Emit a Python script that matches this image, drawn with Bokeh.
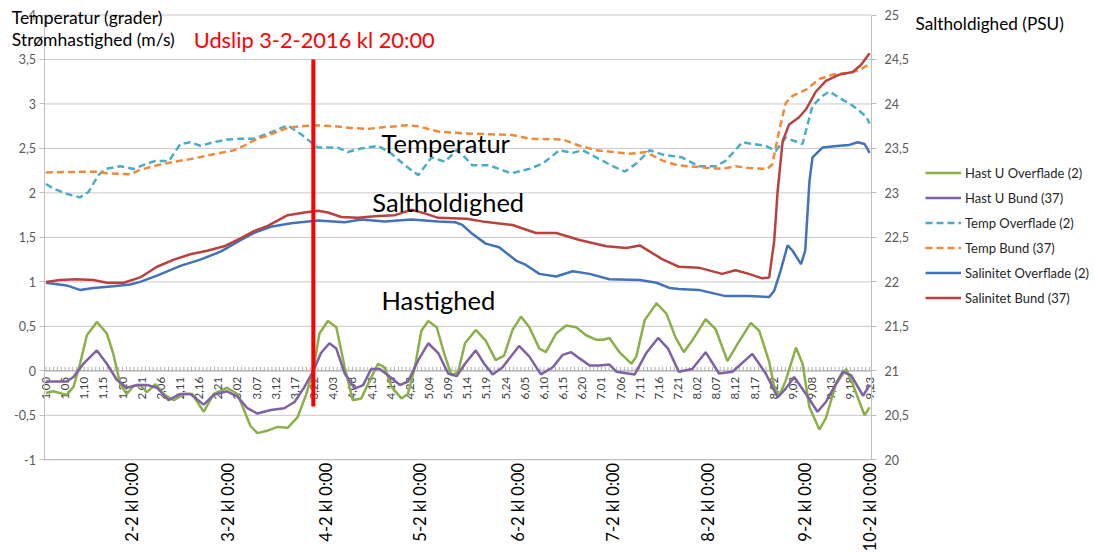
import math
from bokeh.plotting import figure
from bokeh.models import (Range1d, LinearAxis, FixedTicker, Label, Legend, LegendItem,
                          CustomJSTickFormatter)
from bokeh.embed import file_html
from bokeh.resources import INLINE
from bokeh.core.properties import value

FONT = "Lato"

# ---------------- data (x = hourly category index, 0 = "1,00") ----------------
cat_labels = ["1,00", "1,05", "1,10", "1,15", "1,20", "2,01", "2,06", "2,11", "2,16", "2,21",
              "3,02", "3,07", "3,12", "3,17", "3,22", "4,03", "4,08", "4,13", "4,18", "4,23",
              "5,04", "5,09", "5,14", "5,19", "5,24", "6,05", "6,10", "6,15", "6,20", "7,01",
              "7,06", "7,11", "7,16", "7,21", "8,02", "8,07", "8,12", "8,17", "8,22", "9,03",
              "9,08", "9,13", "9,18", "9,23"]
n_categories = 216

day_labels = ["2-2 kl 0:00", "3-2 kl 0:00", "4-2 kl 0:00", "5-2 kl 0:00", "6-2 kl 0:00",
              "7-2 kl 0:00", "8-2 kl 0:00", "9-2 kl 0:00", "10-2 kl 0:00"]
day_pos = [22.5, 47.5, 73.2, 97.6, 123.2, 148.1, 172.8, 198.2, 215.2]

event_x = 69.8  # "Udslip 3-2-2016 kl 20:00"

hast_o_x = [0, 1.9, 5.4, 7.2, 8.9, 10.7, 13.3, 15.9, 17.6, 19.4,
            21.1, 22.9, 24.6, 26.4, 28.6, 30.7, 33.4, 36, 38.2, 41.2,
            43.8, 47.3, 50, 51.7, 53.4, 55.2, 58, 60.5, 63.1, 65.7,
            67.9, 69.7, 71.4, 73.6, 75.8, 78, 80.1, 82.3, 84.5, 86.7,
            88.4, 90.2, 92.8, 94.5, 96.3, 98, 99.8, 102, 104.2, 105.9,
            107.6, 109.4, 112.2, 114.8, 117.4, 119.6, 121.8, 124, 126.2, 128.8,
            130.5, 133.2, 135.8, 138.4, 141, 143.6, 145.4, 147.1, 149.7, 152.8,
            154.1, 156.3, 159.4, 162, 164.3, 166.5, 168.7, 172.2, 174.8, 177.9,
            180.5, 184, 186.2, 188.8, 190.1, 191.4, 193.1, 195.8, 197.5, 199.3,
            201.9, 203.6, 206.2, 208.9, 210.6, 213.7, 215]
hast_o_y = [-0.25, -0.23, -0.27, -0.18, 0.08, 0.40, 0.55, 0.42, 0.19, -0.15,
            -0.26, -0.17, -0.16, -0.24, -0.15, -0.26, -0.33, -0.26, -0.26, -0.46,
            -0.26, -0.19, -0.26, -0.44, -0.62, -0.70, -0.67, -0.63, -0.64, -0.52,
            -0.27, -0.01, 0.42, 0.56, 0.49, 0.04, -0.33, -0.31, -0.11, 0.08,
            0.04, -0.18, -0.31, -0.26, 0.04, 0.45, 0.56, 0.49, 0.16, -0.05,
            -0.01, 0.31, 0.46, 0.34, 0.12, 0.17, 0.46, 0.61, 0.49, 0.25,
            0.21, 0.42, 0.51, 0.49, 0.40, 0.35, 0.35, 0.37, 0.21, 0.08,
            0.16, 0.57, 0.76, 0.64, 0.38, 0.21, 0.34, 0.58, 0.47, 0.11,
            0.30, 0.54, 0.45, 0.10, -0.18, -0.28, -0.11, 0.26, 0.08, -0.41,
            -0.66, -0.53, -0.15, 0.02, -0.15, -0.50, -0.41]

hast_b_x = [0, 5.4, 7.2, 9.8, 13.3, 15.9, 18.5, 21.1, 23.8, 26.4,
            29, 32, 35.1, 37.7, 41.2, 43.8, 47.3, 50, 52.6, 55.2,
            58.7, 62.2, 64.9, 67.5, 69.7, 71.8, 74, 75.8, 78, 80.6,
            82.8, 84.9, 87.1, 89.3, 92.4, 94.5, 97.2, 99.8, 102.4, 105,
            107.2, 109.4, 112.2, 114.4, 116.6, 119.2, 123.5, 126.2, 129.2, 132.3,
            134.9, 137.1, 139.3, 141.9, 144.5, 147.1, 148.9, 153.7, 156.7, 159.8,
            162.4, 165.2, 168.7, 172.2, 175.7, 179.2, 184.4, 187.9, 191, 193.1,
            195.3, 198.4, 201.4, 203.6, 208, 210.2, 213.3, 215]
hast_b_y = [-0.12, -0.12, -0.07, 0.08, 0.23, 0.08, -0.10, -0.19, -0.16, -0.16,
            -0.19, -0.33, -0.26, -0.26, -0.38, -0.27, -0.23, -0.29, -0.42, -0.48,
            -0.44, -0.42, -0.35, -0.18, -0.01, 0.20, 0.31, 0.25, -0.03, -0.20,
            -0.16, 0.02, 0.02, -0.05, -0.16, -0.12, 0.12, 0.31, 0.20, -0.03,
            -0.06, 0.08, 0.23, 0.08, -0.04, 0.04, 0.28, 0.16, -0.04, 0.04,
            0.18, 0.21, 0.14, 0.06, 0.06, 0.07, -0.01, -0.04, 0.20, 0.37,
            0.25, -0.01, 0.02, 0.21, -0.03, -0.01, 0.19, -0.03, -0.30, -0.20,
            -0.07, -0.26, -0.46, -0.35, -0.01, -0.05, -0.28, -0.16]

temp_o_x = [0, 1.9, 5.4, 8.9, 11.1, 13.7, 15.5, 19.4, 22.9, 26.4,
            28.6, 32.1, 35.1, 37.7, 40.3, 43.8, 47.3, 50.8, 54.3, 58.7,
            63.1, 66.6, 69.2, 71, 76.2, 78.8, 82.3, 86.7, 90.2, 93.7,
            97.2, 100.7, 104.2, 107.2, 109.4, 111.3, 115.7, 121.4, 126.2, 129.7,
            134, 137.5, 140.1, 144.5, 148, 151.1, 154.1, 157.6, 161.1, 166,
            170.4, 174.8, 177.4, 181.8, 184.4, 187.9, 190.5, 193.1, 197.5, 200.1,
            202.7, 204.5, 207.1, 210.6, 214.1, 215]
temp_o_y = [2.10, 2.05, 1.99, 1.95, 2.01, 2.20, 2.27, 2.30, 2.27, 2.33,
            2.36, 2.36, 2.55, 2.57, 2.53, 2.57, 2.60, 2.61, 2.61, 2.68,
            2.76, 2.66, 2.57, 2.51, 2.51, 2.46, 2.50, 2.53, 2.44, 2.31,
            2.20, 2.40, 2.35, 2.48, 2.40, 2.31, 2.31, 2.22, 2.27, 2.33,
            2.48, 2.45, 2.48, 2.38, 2.30, 2.24, 2.33, 2.48, 2.43, 2.40,
            2.30, 2.30, 2.36, 2.57, 2.55, 2.53, 2.47, 2.62, 2.55, 2.98,
            3.09, 3.14, 3.07, 2.98, 2.86, 2.78]

temp_b_x = [0, 12.4, 15.9, 22, 24.6, 29, 33.4, 37.7, 42.1, 49.1,
            51.7, 54.3, 58.7, 63.1, 66.6, 71, 75.3, 79.7, 84.1, 88.4,
            94.5, 97.2, 102.4, 108.7, 121.8, 126.2, 134.9, 139.3, 143.6, 148,
            152.4, 156.7, 161.1, 165, 170.4, 176.5, 180, 183.5, 188.3, 189.6,
            191.4, 193.1, 194.9, 198.4, 201.9, 205.4, 209.7, 212.4, 215]
temp_b_y = [2.23, 2.24, 2.22, 2.21, 2.26, 2.31, 2.35, 2.38, 2.42, 2.48,
            2.53, 2.59, 2.66, 2.73, 2.75, 2.76, 2.75, 2.73, 2.72, 2.74,
            2.76, 2.75, 2.69, 2.67, 2.65, 2.61, 2.60, 2.53, 2.48, 2.46,
            2.44, 2.46, 2.36, 2.31, 2.29, 2.27, 2.30, 2.28, 2.27, 2.32,
            2.70, 3.01, 3.09, 3.16, 3.28, 3.33, 3.35, 3.38, 3.45]

sal_o_x = [0, 5.4, 8.9, 12.4, 17.6, 22, 24.6, 29, 35.1, 40.3,
           45.6, 50.8, 54.3, 58.7, 64, 71, 78, 82.3, 88.4, 95.4,
           102.4, 106.8, 108.7, 111.3, 114.8, 118.3, 122.7, 125.3, 128.8, 133.2,
           137.5, 141.9, 147.1, 155, 159.4, 162.9, 165.2, 170.4, 177.4, 183.5,
           188.8, 190.1, 191.8, 193.6, 194.9, 197.1, 198.2, 199.3, 200.1, 202.7,
           207.1, 209.7, 211.9, 213.7, 215]
sal_o_y = [21.99, 21.96, 21.91, 21.93, 21.95, 21.97, 22.00, 22.07, 22.18, 22.25,
           22.34, 22.47, 22.55, 22.62, 22.66, 22.69, 22.67, 22.70, 22.68, 22.70,
           22.68, 22.67, 22.64, 22.54, 22.43, 22.39, 22.24, 22.19, 22.09, 22.06,
           22.12, 22.09, 22.03, 22.02, 21.99, 21.93, 21.92, 21.91, 21.84, 21.84,
           21.83, 21.90, 22.13, 22.41, 22.35, 22.20, 22.35, 23.13, 23.40, 23.51,
           23.53, 23.54, 23.57, 23.55, 23.45]

sal_b_x = [0, 3.7, 8, 12.4, 15.9, 20.3, 24.6, 29, 33.4, 37.7,
           42.1, 46.5, 50.8, 54.3, 57.9, 63.1, 67.5, 71, 73.6, 77.1,
           81.4, 86.7, 91.1, 95.4, 98.9, 102.4, 109.8, 113.9, 121.8, 127.9,
           133.2, 139.3, 146.3, 151.5, 155, 161.1, 165.2, 170.4, 176.5, 180,
           183.5, 187, 188.8, 190.1, 191, 192.3, 194, 196.6, 198.4, 201,
           203.6, 207.1, 210.6, 212.8, 215]
sal_b_y = [22.00, 22.02, 22.03, 22.02, 21.99, 21.99, 22.05, 22.17, 22.25, 22.31,
           22.35, 22.40, 22.49, 22.57, 22.63, 22.75, 22.78, 22.80, 22.78, 22.73,
           22.72, 22.74, 22.75, 22.81, 22.77, 22.72, 22.71, 22.68, 22.64, 22.55,
           22.55, 22.47, 22.40, 22.38, 22.41, 22.25, 22.17, 22.16, 22.09, 22.13,
           22.09, 22.04, 22.05, 22.46, 23.02, 23.58, 23.77, 23.85, 23.94, 24.14,
           24.26, 24.33, 24.36, 24.44, 24.57]

left_ticks = [-1, -0.5, 0, 0.5, 1, 1.5, 2, 2.5, 3, 3.5, 4]
right_ticks = [20, 20.5, 21, 21.5, 22, 22.5, 23, 23.5, 24, 24.5, 25]

# ---------------- layout: the frame fills the whole canvas ----------------
W, H = 1094, 559
PX_LEFT, PX_RIGHT = 43.5, 871.0      # plot area in canvas pixels
PX_TOP, PX_BOTTOM = 14.5, 459.3
X0, X1 = -0.5, 215.5                 # category extent
Y0, Y1 = -1.0, 4.0                   # left axis extent
kx = (PX_RIGHT - PX_LEFT) / (X1 - X0)
ky = (PX_BOTTOM - PX_TOP) / (Y1 - Y0)
xr = Range1d(X0 - PX_LEFT / kx, X0 + (W - PX_LEFT) / kx)
yr = Range1d(Y0 - (H - PX_BOTTOM) / ky, Y1 + PX_TOP / ky)
OFF = 21.0                            # salinity axis = left axis + 21

p = figure(width=W, height=H, output_backend="svg", toolbar_location=None,
           x_range=xr, y_range=yr, min_border=0,
           min_border_left=0, min_border_right=0, min_border_top=0, min_border_bottom=0)
p.outline_line_color = None
p.background_fill_color = "white"
p.border_fill_color = "white"
p.xgrid.visible = False
p.ygrid.visible = False

# horizontal gridlines limited to the plot area
p.segment(x0=[X0] * len(left_ticks), x1=[X1] * len(left_ticks), y0=left_ticks, y1=left_ticks,
          line_color="#C8C8C8", line_width=1)

comma_fmt = CustomJSTickFormatter(code="return String(Math.round(tick*10)/10).replace('.', ',');")

def style_axis(ax, standoff):
    ax.axis_line_color = "#BFBFBF"
    ax.major_tick_line_color = "#BFBFBF"
    ax.major_tick_out = 5
    ax.major_tick_in = 0
    ax.minor_tick_line_color = None
    ax.major_label_text_font = FONT
    ax.major_label_text_font_size = "12.5px"
    ax.major_label_text_color = "#595959"
    ax.major_label_standoff = standoff

yax = p.yaxis[0]
yax.ticker = FixedTicker(ticks=left_ticks)
yax.formatter = comma_fmt
yax.fixed_location = X0
yax.bounds = (Y0, Y1)
style_axis(yax, 3)

p.extra_y_ranges = {"sal": Range1d(yr.start + OFF, yr.end + OFF)}
rax = LinearAxis(y_range_name="sal", ticker=FixedTicker(ticks=right_ticks), formatter=comma_fmt,
                 fixed_location=X1, bounds=(Y0 + OFF, Y1 + OFF))
style_axis(rax, 8)
p.add_layout(rax, "right")

xax = p.xaxis[0]
xax.ticker = FixedTicker(ticks=day_pos)
xax.formatter = CustomJSTickFormatter(args=dict(pos=day_pos, labels=day_labels), code="""
let best = 0, d = 1e9;
for (let i = 0; i < pos.length; i++) { const dd = Math.abs(pos[i] - tick); if (dd < d) { d = dd; best = i; } }
return labels[best];
""")
xax.fixed_location = Y0
xax.bounds = (X0, X1)
xax.major_label_orientation = math.pi / 2
xax.axis_line_color = "#BFBFBF"
xax.major_tick_line_color = None
xax.major_tick_out = 0
xax.major_tick_in = 0
xax.minor_tick_line_color = None
xax.major_label_text_font = FONT
xax.major_label_text_font_size = "16.5px"
xax.major_label_text_color = "#000000"
xax.major_label_standoff = 3

# category axis at y = 0 with its small tick marks and labels
p.segment(x0=[X0], y0=[0], x1=[X1], y1=[0], line_color="#A6A6A6", line_width=1)
cat_idx = list(range(n_categories))
p.segment(x0=cat_idx, y0=[0] * n_categories, x1=cat_idx, y1=[0.045] * n_categories,
          line_color="#B0B0B0", line_width=1)
cat_pos = [i * 5 for i in range(len(cat_labels))]
p.text(x=cat_pos, y=[0] * len(cat_pos), text=cat_labels, angle=math.pi / 2,
       text_align="right", text_baseline="middle", y_offset=6,
       text_font=value(FONT), text_font_size="11.5px", text_color="#404040")

# ---------------- series ----------------
LW = 2.5
r1 = p.line(hast_o_x, hast_o_y, line_color="#8BB04A", line_width=LW)
r2 = p.line(hast_b_x, hast_b_y, line_color="#7E62A1", line_width=LW)
r3 = p.line(temp_o_x, temp_o_y, line_color="#4BACC6", line_width=LW, line_dash="7 4")
r4 = p.line(temp_b_x, temp_b_y, line_color="#F08A3A", line_width=LW, line_dash="7 4")
r5 = p.line(sal_o_x, sal_o_y, line_color="#4372B8", line_width=LW, y_range_name="sal")
r6 = p.line(sal_b_x, sal_b_y, line_color="#B9423F", line_width=LW, y_range_name="sal")

p.segment(x0=[event_x], y0=[-0.4], x1=[event_x], y1=[3.5], line_color="#FF0000", line_width=4)

legend = Legend(items=[
    LegendItem(label="Hast U Overflade (2)", renderers=[r1]),
    LegendItem(label="Hast U Bund (37)", renderers=[r2]),
    LegendItem(label="Temp Overflade (2)", renderers=[r3]),
    LegendItem(label="Temp Bund (37)", renderers=[r4]),
    LegendItem(label="Salinitet Overflade (2)", renderers=[r5]),
    LegendItem(label="Salinitet Bund (37)", renderers=[r6]),
], location=(925, H - 308))
legend.border_line_color = None
legend.background_fill_alpha = 0
legend.padding = 0
legend.margin = 0
legend.spacing = 4
legend.glyph_width = 36
legend.glyph_height = 21
legend.label_height = 21
legend.label_standoff = 4
legend.label_text_font = FONT
legend.label_text_font_size = "13px"
legend.label_text_color = "#262626"
legend.label_text_baseline = "middle"
p.add_layout(legend)

def add_label(x, y, text, size, color="#000000"):
    p.add_layout(Label(x=x, y=y, text=text, text_font=FONT, text_font_size=size,
                       text_color=color, text_align="left", text_baseline="middle"))

add_label(-8.9, 3.97, "Temperatur (grader)", "17.5px")
add_label(-8.9, 3.72, "Strømhastighed  (m/s)", "17.5px")
add_label(38.6, 3.72, "Udslip 3-2-2016 kl 20:00", "21.8px", "#FF0000")
add_label(227.0, 3.91, "Saltholdighed (PSU)", "17.2px")
add_label(87.6, 2.56, "Temperatur", "25.5px")
add_label(85.2, 1.90, "Saltholdighed", "25.5px")
add_label(87.6, 0.80, "Hastighed", "25.5px")

open("out.html", "w").write(file_html(p, INLINE))
